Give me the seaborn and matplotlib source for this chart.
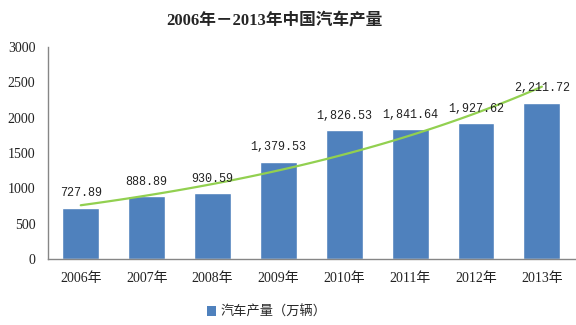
import numpy as np
import pandas as pd
import matplotlib
matplotlib.use("Agg")
import matplotlib.pyplot as plt
from matplotlib.patches import Patch
import seaborn as sns

years = ["2006年", "2007年", "2008年", "2009年", "2010年", "2011年", "2012年", "2013年"]
output = [727.89, 888.89, 930.59, 1379.53, 1826.53, 1841.64, 1927.62, 2211.72]
series_name = "汽车产量（万辆）"
title = "2006年－2013年中国汽车产量"
yticks = [0, 500, 1000, 1500, 2000, 2500, 3000]

sns.set_theme(style="white")
plt.rcParams["font.family"] = ["Liberation Serif", "Noto Sans CJK SC", "DejaVu Sans"]

df = pd.DataFrame({"year": years, "output": output})

fig = plt.figure(figsize=(5.76, 3.25), dpi=100)
ax = fig.add_axes([0.083, 0.203, 0.915, 0.652])

bar_color = "#4F81BD"
sns.barplot(data=df, x="year", y="output", color=bar_color, width=0.56,
            saturation=1, ax=ax, legend=False)

# exponential trend line (as fitted by the spreadsheet), computed from the data
xpos = np.arange(len(output))
k, b = np.polyfit(xpos, np.log(output), 1)
xs = np.linspace(0, len(output) - 1, 100)
trend_s = pd.DataFrame({"x": xs, "y": np.exp(b + k * xs)})
sns.lineplot(data=trend_s, x="x", y="y", color="#92D050", linewidth=1.6, ax=ax)

for i, v in enumerate(output):
    ax.annotate(f"{v:,.2f}", (i, v), xytext=(0, 6), textcoords="offset points",
                ha="center", va="bottom", fontsize=8.5,
                family=["Liberation Mono", "DejaVu Sans Mono"], color="#222222")

ax.set_xlim(-0.5, len(output) - 0.5)
ax.set_ylim(0, 3000)
ax.set_yticks(yticks)
ax.set_yticklabels([str(t) for t in yticks], fontsize=10)
ax.set_xticks(range(len(years)))
ax.set_xticklabels(years, fontsize=10)
ax.set_xlabel("")
ax.set_ylabel("")
ax.tick_params(axis="both", length=0, colors="#222222")
ax.tick_params(axis="y", pad=9)
ax.tick_params(axis="x", pad=9)
for s in ["top", "right"]:
    ax.spines[s].set_visible(False)
for s in ["left", "bottom"]:
    ax.spines[s].set_color("#868686")
    ax.spines[s].set_linewidth(1.0)
ax.grid(False)

fig.text(0.476, 0.935, title, ha="center", va="center", fontsize=12,
         fontweight="bold", family=["Liberation Serif", "Noto Sans CJK SC"])

handle = Patch(facecolor=bar_color, edgecolor="none")
fig.legend([handle], [series_name], loc="center", bbox_to_anchor=(0.463, 0.04),
           frameon=False, prop={"family": ["Noto Sans CJK SC"], "size": 9.5},
           handlelength=0.7, handleheight=0.7, handletextpad=0.3)

fig.savefig("out.png", dpi=100)
